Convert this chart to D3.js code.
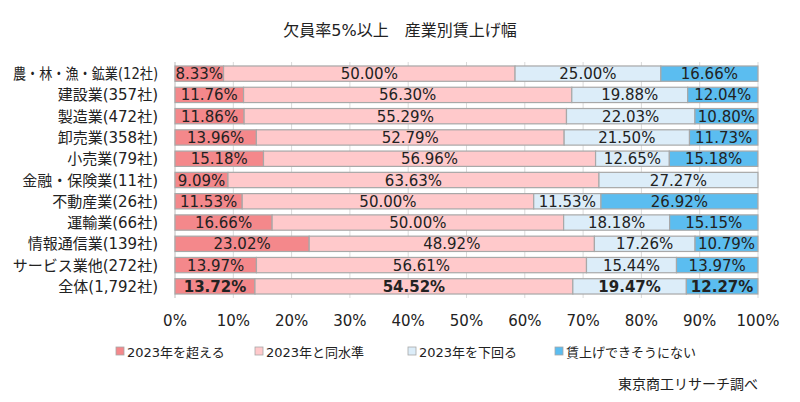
<!DOCTYPE html>
<html>
<head>
<meta charset="utf-8">
<script src="https://cdn.jsdelivr.net/npm/d3@7"></script>
<style>
body { margin: 0; background: #fff; }
text { font-family: "DejaVu Sans", "Noto Sans CJK JP", sans-serif; }
</style>
</head>
<body>
<svg></svg>
<script>
var categories = ["農・林・漁・鉱業(12社)", "建設業(357社)", "製造業(472社)", "卸売業(358社)", "小売業(79社)",
  "金融・保険業(11社)", "不動産業(26社)", "運輸業(66社)", "情報通信業(139社)", "サービス業他(272社)", "全体(1,792社)"];
var seriesNames = ["2023年を超える", "2023年と同水準", "2023年を下回る", "賃上げできそうにない"];
var over = [8.33, 11.76, 11.86, 13.96, 15.18, 9.09, 11.53, 16.66, 23.02, 13.97, 13.72];
var same = [50.00, 56.30, 55.29, 52.79, 56.96, 63.63, 50.00, 50.00, 48.92, 56.61, 54.52];
var under = [25.00, 19.88, 22.03, 21.50, 12.65, 27.27, 11.53, 18.18, 17.26, 15.44, 19.47];
var none = [16.66, 12.04, 10.80, 11.73, 15.18, 0, 26.92, 15.15, 10.79, 13.97, 12.27];
var ticks = [0, 10, 20, 30, 40, 50, 60, 70, 80, 90, 100];
var colors = ["#f4888b", "#ffc9cb", "#dcedf9", "#5bbdf0"];

var width = 800, height = 402;
var svg = d3.select("svg").attr("width", width).attr("height", height);

var x = d3.scaleLinear().domain([0, 100]).range([175, 758]);
var y = d3.scaleBand().domain(categories).range([63, 297]).paddingInner(0.28).paddingOuter(0.14);

// title
svg.append("text")
   .attr("x", 400).attr("y", 36)
   .attr("text-anchor", "middle")
   .style("font-size", "16px")
   .attr("fill", "#222")
   .text("欠員率5%以上　産業別賃上げ幅");

// gridlines
svg.selectAll(".grid")
   .data(ticks)
   .enter()
   .append("line")
   .attr("x1", function(d) { return x(d); })
   .attr("x2", function(d) { return x(d); })
   .attr("y1", 62).attr("y2", 298)
   .attr("stroke", function(d) { return d == 0 ? "#bbb" : "#d9d9d9"; })
   .attr("stroke-width", 1);

// stacked bars
var rows = categories.map(function(c, i) {
  return { cat: c, vals: [over[i], same[i], under[i], none[i]] };
});

rows.forEach(function(r, i) {
  var start = 0;
  var g = svg.append("g");
  r.vals.forEach(function(v, k) {
    if (v > 0) {
      g.append("rect")
       .attr("x", x(start))
       .attr("y", y(r.cat))
       .attr("width", x(start + v) - x(start))
       .attr("height", y.bandwidth())
       .attr("fill", colors[k])
       .attr("stroke", "#a8a8a8")
       .attr("stroke-width", 1.2);
      g.append("text")
       .attr("x", (x(start) + x(start + v)) / 2)
       .attr("y", y(r.cat) + y.bandwidth() / 2 + 5.5)
       .attr("text-anchor", "middle")
       .style("font-size", "15px")
       .style("font-weight", i == categories.length - 1 ? "bold" : "normal")
       .attr("fill", "#222")
       .text(v.toFixed(2) + "%");
    }
    start += v;
  });
});

// category labels
svg.selectAll(".cat")
   .data(categories)
   .enter()
   .append("text")
   .attr("x", 158)
   .attr("y", function(d) { return y(d) + y.bandwidth() / 2 + 5.5; })
   .attr("text-anchor", "end")
   .style("font-size", "15px")
   .attr("fill", "#222")
   .text(function(d) { return d; })
   .each(function() {
     // the original font has narrow middle dots
     if (this.getComputedTextLength() > 146) {
       d3.select(this).attr("textLength", 145).attr("lengthAdjust", "spacingAndGlyphs");
     }
   });

// axis labels
svg.selectAll(".tick")
   .data(ticks)
   .enter()
   .append("text")
   .attr("x", function(d) { return x(d); })
   .attr("y", 326)
   .attr("text-anchor", "middle")
   .style("font-size", "15px")
   .attr("fill", "#222")
   .text(function(d) { return d + "%"; });

// legend
var legendX = [116, 255, 408, 555];
var legend = svg.append("g");
seriesNames.forEach(function(n, k) {
  legend.append("rect")
        .attr("x", legendX[k]).attr("y", 347)
        .attr("width", 8).attr("height", 8)
        .attr("fill", colors[k])
        .attr("stroke", "#a8a8a8")
        .attr("stroke-width", 0.8);
  legend.append("text")
        .attr("x", legendX[k] + 11).attr("y", 357)
        .style("font-size", "13px")
        .attr("fill", "#222")
        .text(n);
});

// source
svg.append("text")
   .attr("x", 758).attr("y", 389)
   .attr("text-anchor", "end")
   .style("font-size", "14px")
   .attr("fill", "#222")
   .text("東京商工リサーチ調べ");
</script>
</body>
</html>
